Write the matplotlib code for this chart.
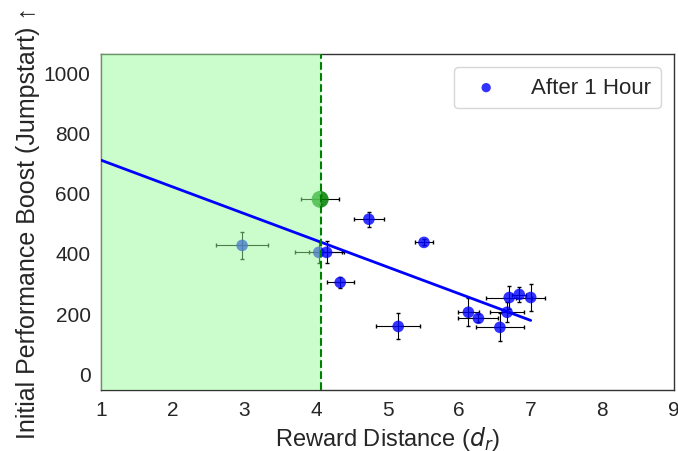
import matplotlib
matplotlib.use("Agg")
import matplotlib.pyplot as plt
import seaborn as sns

sns.set_style("white")
plt.rcParams['font.family'] = ['Liberation Sans', 'DejaVu Sans']

# reward distance, jumpstart, errors
dist = [2.97, 4.04, 4.15, 4.34, 4.74, 5.51, 5.15, 6.13, 6.27, 6.57, 6.67, 6.70, 6.84, 7.00]
boost = [425, 402, 402, 302, 512, 435, 156, 203, 183, 153, 203, 252, 262, 252]
dist_err = [0.36, 0.33, 0.24, 0.19, 0.21, 0.12, 0.31, 0.15, 0.28, 0.33, 0.24, 0.32, 0.10, 0.20]
boost_err = [46, 36, 36, 17, 25, 10, 43, 47, 13, 47, 33, 37, 26, 45]

# highlighted point at the threshold
hl_dist = [4.06]
hl_boost = [578]
hl_dist_err = [0.27]
hl_boost_err = [15]

threshold = 4.07
fit_x = [1.0, 7.0]
fit_y = [708, 176]

fig = plt.figure(figsize=(6.78, 4.52), dpi=100)
ax = fig.add_axes([0.149, 0.135, 0.845, 0.743])

ax.errorbar(dist, boost, xerr=dist_err, yerr=boost_err, fmt='none',
            ecolor='black', elinewidth=0.8, capsize=1.5, zorder=2)
ax.scatter(dist, boost, s=70, color='blue', alpha=0.8, edgecolors='none',
           label='After 1 Hour', zorder=3)
ax.errorbar(hl_dist, hl_boost, xerr=hl_dist_err, yerr=hl_boost_err, fmt='none',
            ecolor='black', elinewidth=0.8, capsize=1.5, zorder=2)
ax.scatter(hl_dist, hl_boost, s=150, color='green', alpha=0.85, edgecolors='none', zorder=3)

# shaded region sits over the points but under the fit line
ax.axvspan(1, threshold, color='palegreen', alpha=0.5, lw=0, zorder=4)
ax.plot(fit_x, fit_y, color='blue', linewidth=2, zorder=5)
ax.axvline(threshold, color='green', linestyle='--', linewidth=1.5, zorder=6)

ax.set_xlim(1, 9)
ax.set_ylim(-55, 1060)
ax.set_xticks(range(1, 10))
ax.set_yticks(range(0, 1001, 200))
ax.tick_params(labelsize=15, pad=4)
for s in ax.spines.values():
    s.set_color('#333333')
    s.set_linewidth(1.0)

ax.set_xlabel('Reward Distance ($d_r$)', fontsize=17, labelpad=3)
ax.set_ylabel('Initial Performance Boost (Jumpstart) \u2191', fontsize=18, labelpad=3)

ax.legend(loc='upper right', fontsize=16, frameon=True, handletextpad=1.0,
          borderpad=0.45, markerscale=0.8, borderaxespad=0.6)

fig.savefig('out.png', dpi=100)
